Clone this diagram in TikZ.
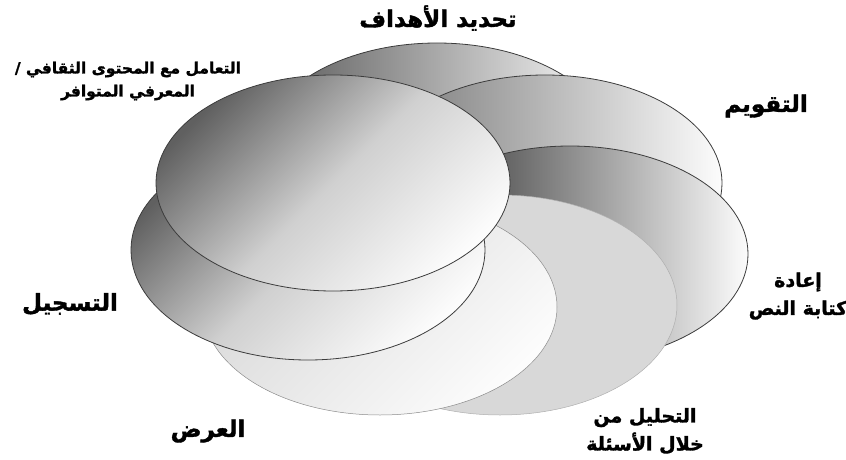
\documentclass[tikz,border=0pt]{standalone}
\usepackage{fontspec}
\usepackage{tikz}
\definecolor{rim}{RGB}{60,60,60}
\definecolor{softrim}{RGB}{140,140,140}
\definecolor{paper}{RGB}{252,252,252}
\definecolor{flat}{RGB}{216,216,216}
\definecolor{dusk}{RGB}{96,96,96}
\definecolor{haze}{RGB}{208,208,208}
\newfontfamily\arabicfont[Script=Arabic, BoldFeatures={FakeBold=1.6}]{DejaVu Sans}
\TeXXeTstate=1

\begin{document}
\begin{tikzpicture}[x=1pt, y=-1pt,
    petal/.style={draw=rim, line width=0.8pt},
    tag/.style={font=\arabicfont\bfseries\fontsize{23}{28}\selectfont, align=center, inner sep=0pt},
    pair/.style={tag, font=\arabicfont\bfseries\fontsize{19}{28}\selectfont}]
  \useasboundingbox (0,0) rectangle (846,460);
  \shade[petal, left color=black!66, right color=paper] (437,151) ellipse [x radius=177pt, y radius=108pt];
  \shade[petal, left color=black!55, right color=paper] (545,183) ellipse [x radius=177pt, y radius=108pt];
  \shade[petal, left color=black!88, right color=paper] (570,254) ellipse [x radius=178pt, y radius=108pt];
  \fill[flat, draw=softrim!70, line width=0.5pt] (500,305) ellipse [x radius=177pt, y radius=110pt];
  \shade[draw=softrim, line width=0.5pt, top color=black!16, bottom color=paper, shading angle=45] (380,307) ellipse [x radius=177pt, y radius=108pt];
  \shade[petal, top color=dusk, bottom color=paper, middle color=haze, shading angle=45] (308,250) ellipse [x radius=177pt, y radius=110pt];
  \shade[petal, top color=dusk, bottom color=paper, middle color=haze, shading angle=45] (333,183) ellipse [x radius=177pt, y radius=108pt];
  \node[tag] (goals) at (438,18) {\beginR تحديد الأهداف\endR};
  \node[tag] (review) at (766,106) {\beginR التقويم\endR};
  \node[pair] (rewrite) at (798,296) {\beginR إعادة\endR\\\beginR كتابة النص\endR};
  \node[pair] (analysis) at (645,431) {\beginR التحليل من\endR\\\beginR خلال الأسئلة\endR};
  \node[tag] (show) at (208,431) {\beginR العرض\endR};
  \node[tag] (record) at (70,304) {\beginR التسجيل\endR};
  \node[tag, font=\arabicfont\bfseries\fontsize{15.5}{23}\selectfont] (content) at (128,81) {\beginR التعامل مع المحتوى الثقافي /\endR\\\beginR المعرفي المتوافر\endR};
\end{tikzpicture}
\end{document}
